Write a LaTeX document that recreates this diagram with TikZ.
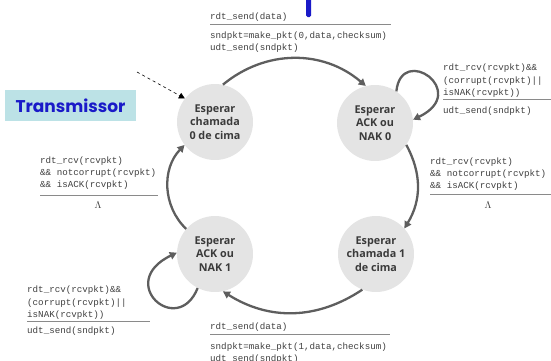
\documentclass[tikz,border=0pt]{standalone}
\usepackage{fontspec}
\setmonofont{Liberation Mono}
\newfontfamily\circfont{Open Sans}
\newfontfamily\titfont{Poppins}
\usetikzlibrary{arrows.meta}
\definecolor{edgegray}{HTML}{5E5E5E}
\definecolor{statefill}{HTML}{E4E4E4}
\definecolor{textdark}{HTML}{3A3A3A}
\definecolor{labeltext}{HTML}{404040}
\definecolor{rulegray}{HTML}{8A8A8A}
\definecolor{boxblue}{HTML}{BCE2E6}
\definecolor{titblue}{HTML}{1A1AC8}
\begin{document}
\begin{tikzpicture}[x=1pt,y=1pt,
  state/.style={circle,fill=statefill,minimum size=76pt,inner sep=0pt,align=center,
    font=\circfont\bfseries\fontsize{10.8}{13.5}\selectfont,text=textdark},
  trans/.style={draw=edgegray,line width=2.3pt,-{Triangle[width=7.5pt,length=7pt]}},
  lbl/.style={anchor=base west,inner sep=0pt,font=\ttfamily\fontsize{9.2}{12}\selectfont,text=labeltext},
  lam/.style={inner sep=0pt,text=labeltext,font=\fontsize{10}{10}\selectfont},
  rulel/.style={draw=rulegray,line width=1pt}]
\useasboundingbox (0,0) rectangle (551,360);
\clip (0,0) rectangle (551,360);

% title fragment
\fill[titblue,rounded corners=1.5pt] (306,362) rectangle (311,343);

% states
\node[state] (A) at (215,238) {Esperar\\chamada\\0 de cima};
\node[state] (B) at (375,237) {Esperar\\ACK ou\\NAK 0};
\node[state] (C) at (376,106) {Esperar\\chamada 1\\de cima};
\node[state] (D) at (215,106) {Esperar\\ACK ou\\NAK 1};

% transmissor label
\node[fill=boxblue,minimum width=131pt,minimum height=31pt,inner sep=0pt,
  text=titblue,font=\titfont\bfseries\fontsize{17}{17}\selectfont] (T) at (70.5,254.5) {Transmissor};

% initial dashed arrow
\coordinate (init) at (137,288);
\draw[dashed,line width=0.6pt,-{Triangle[width=6pt,length=6pt]}] (init) -- (A.142);

% transitions
\draw[trans] (A.78) to[bend left=40] (B.104);
\draw[trans] (B.-35) to[bend left=30] (C.42);
\draw[trans] (C.-111) to[bend left=33] (D.-78);
\draw[trans] (D.139) to[bend left=45] (A.-143);
\draw[trans] (B.56) .. controls +(5,48) and +(58,28) .. (B.5);
\draw[trans] (D.-117) .. controls +(-20,-50) and +(-62,-30) .. (D.178);

% top label
\node[lbl] (t1) at (210,341) {rdt\_send(data)};
\draw[rulel] (210,336) -- (391,336);
\node[lbl] (t2) at (210,322) {sndpkt=make\_pkt(0,data,checksum)};
\node[lbl] (t3) at (210,310) {udt\_send(sndpkt)};

% right loop label
\node[lbl] (r1) at (443,290) {rdt\_rcv(rcvpkt)\&\&};
\node[lbl] (r2) at (443,277) {(corrupt(rcvpkt)||};
\node[lbl] (r3) at (443,265) {isNAK(rcvpkt))};
\draw[rulel] (443,261) -- (551,261);
\node[lbl] (r4) at (443,247) {udt\_send(sndpkt)};

% right arc label
\node[lbl] (s1) at (430,196) {rdt\_rcv(rcvpkt)};
\node[lbl] (s2) at (430,184) {\&\& notcorrupt(rcvpkt)};
\node[lbl] (s3) at (430,172) {\&\& isACK(rcvpkt)};
\draw[rulel] (430,166) -- (551,166);
\node[lam] (s4) at (488,155) {$\Lambda$};

% left arc label
\node[lbl] (l1) at (40,197) {rdt\_rcv(rcvpkt)};
\node[lbl] (l2) at (40,185) {\&\& notcorrupt(rcvpkt)};
\node[lbl] (l3) at (40,173) {\&\& isACK(rcvpkt)};
\draw[rulel] (40,165) -- (158,165);
\node[lam] (l4) at (98,155) {$\Lambda$};

% bottom-left loop label
\node[lbl] (b1) at (27,68) {rdt\_rcv(rcvpkt)\&\&};
\node[lbl] (b2) at (27,55) {(corrupt(rcvpkt)||};
\node[lbl] (b3) at (27,43) {isNAK(rcvpkt))};
\draw[rulel] (27,39) -- (150,39);
\node[lbl] (b4) at (27,27) {udt\_send(sndpkt)};

% bottom label
\node[lbl] (u1) at (210,31) {rdt\_send(data)};
\draw[rulel] (210,26) -- (390,26);
\node[lbl] (u2) at (210,11) {sndpkt=make\_pkt(1,data,checksum)};
\node[lbl] (u3) at (210,-1) {udt\_send(sndpkt)};
\end{tikzpicture}
\end{document}
